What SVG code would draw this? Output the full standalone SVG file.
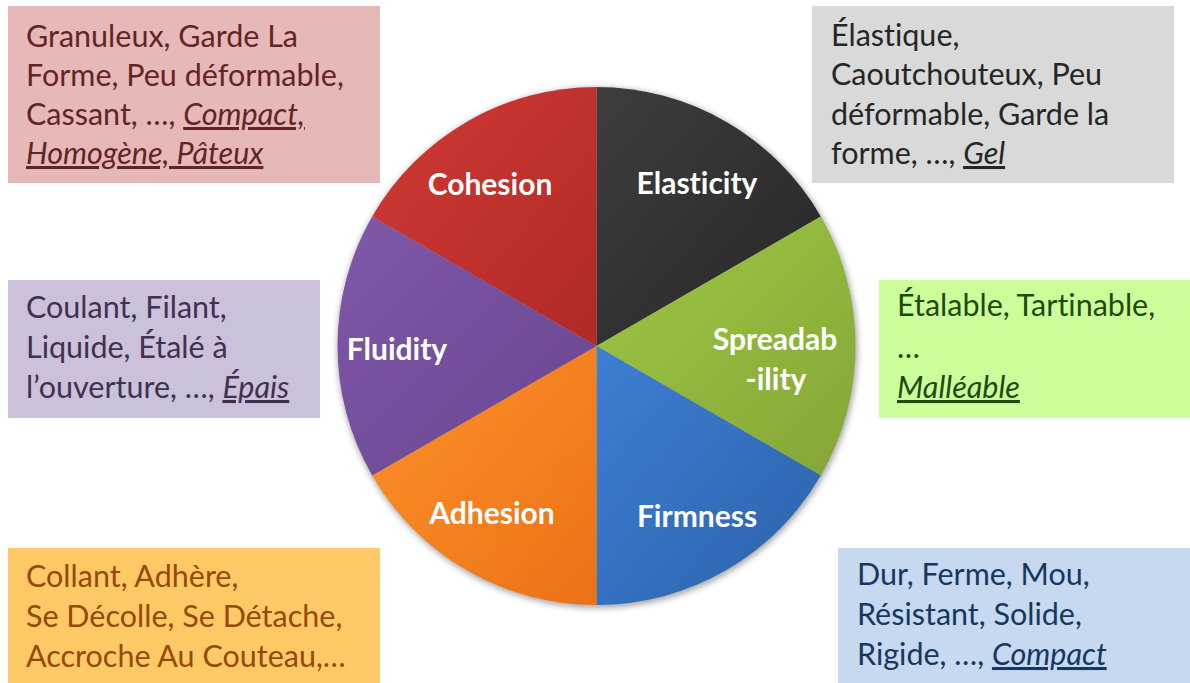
<svg xmlns="http://www.w3.org/2000/svg" width="1190" height="683" viewBox="0 0 1190 683">
<defs>
<style>
.t{font-family:Lato,"Noto Sans",sans-serif;font-size:30.5px;font-variant-ligatures:none}
.lbl{font-family:Lato,"Noto Sans",sans-serif;font-weight:bold;font-size:30px;fill:#ffffff;font-variant-ligatures:none}
.u{font-style:italic;text-decoration:underline}
</style>
<linearGradient id="gRed" x1="0" y1="0" x2="1" y2="1"><stop offset="0" stop-color="#CF3A35"/><stop offset="1" stop-color="#B12926"/></linearGradient>
<linearGradient id="gBlk" x1="0" y1="0" x2="1" y2="1"><stop offset="0" stop-color="#3E3E3E"/><stop offset="1" stop-color="#262626"/></linearGradient>
<linearGradient id="gGrn" x1="0" y1="0" x2="1" y2="1"><stop offset="0" stop-color="#9EC743"/><stop offset="1" stop-color="#84A636"/></linearGradient>
<linearGradient id="gBlu" x1="0" y1="0" x2="1" y2="1"><stop offset="0" stop-color="#3D7FD3"/><stop offset="1" stop-color="#2C62AA"/></linearGradient>
<linearGradient id="gOrg" x1="0" y1="0" x2="1" y2="1"><stop offset="0" stop-color="#FC9229"/><stop offset="1" stop-color="#EC7117"/></linearGradient>
<linearGradient id="gPur" x1="0" y1="0" x2="1" y2="1"><stop offset="0" stop-color="#8058A9"/><stop offset="1" stop-color="#684690"/></linearGradient>
<filter id="sh" x="-10%" y="-10%" width="120%" height="120%"><feGaussianBlur stdDeviation="3"/></filter>
</defs>
<rect width="1190" height="683" fill="#ffffff"/>

<g id="pie">
<circle cx="597.5" cy="348" r="260" fill="#000" opacity="0.35" filter="url(#sh)"/>
<g id="slice-elasticity"><path d="M596.5,346 L596.5,87 A259,259 0 0 1 820.8,216.5 Z" fill="url(#gBlk)"/><text class="lbl" x="697" y="194" text-anchor="middle">Elasticity</text></g>
<g id="slice-spreadability"><path d="M596.5,346 L820.8,216.5 A259,259 0 0 1 820.8,475.5 Z" fill="url(#gGrn)"/><text class="lbl" x="775" y="350" text-anchor="middle">Spreadab</text><text class="lbl" x="776" y="390" text-anchor="middle">-ility</text></g>
<g id="slice-firmness"><path d="M596.5,346 L820.8,475.5 A259,259 0 0 1 596.5,605 Z" fill="url(#gBlu)"/><text class="lbl" x="697" y="527" text-anchor="middle">Firmness</text></g>
<g id="slice-adhesion"><path d="M596.5,346 L596.5,605 A259,259 0 0 1 372.2,475.5 Z" fill="url(#gOrg)"/><text class="lbl" x="492" y="524" text-anchor="middle">Adhesion</text></g>
<g id="slice-fluidity"><path d="M596.5,346 L372.2,475.5 A259,259 0 0 1 372.2,216.5 Z" fill="url(#gPur)"/><text class="lbl" x="397" y="360" text-anchor="middle">Fluidity</text></g>
<g id="slice-cohesion"><path d="M596.5,346 L372.2,216.5 A259,259 0 0 1 596.5,87 Z" fill="url(#gRed)"/><text class="lbl" x="490" y="195" text-anchor="middle">Cohesion</text></g>
</g>

<g id="box-cohesion">
<rect x="8" y="6" width="372" height="177" fill="#E6B9B8"/>
<text class="t" fill="#632523"><tspan x="26" y="47">Granuleux, Garde La</tspan><tspan x="26" y="86">Forme, Peu déformable,</tspan><tspan x="26" y="125">Cassant, …, <tspan class="u">Compact,</tspan></tspan><tspan x="26" y="164" class="u">Homogène, Pâteux</tspan></text>
</g>
<g id="box-elasticity">
<rect x="812" y="6" width="362" height="177" fill="#D9D9D9"/>
<text class="t" fill="#262626"><tspan x="831" y="46">Élastique,</tspan><tspan x="831" y="85">Caoutchouteux, Peu</tspan><tspan x="831" y="125">déformable, Garde la</tspan><tspan x="831" y="164">forme, …, <tspan class="u">Gel</tspan></tspan></text>
</g>
<g id="box-fluidity">
<rect x="8" y="280" width="312" height="138" fill="#CCC1DA"/>
<text class="t" fill="#3F3151"><tspan x="26" y="318">Coulant, Filant,</tspan><tspan x="26" y="358">Liquide, Étalé à</tspan><tspan x="26" y="398">l’ouverture, …, <tspan class="u">Épais</tspan></tspan></text>
</g>
<g id="box-spreadability">
<rect x="879" y="280" width="311" height="138" fill="#CCFF99"/>
<text class="t" fill="#1D4A10"><tspan x="897" y="316">Étalable, Tartinable,</tspan><tspan x="897" y="358">…</tspan><tspan x="897" y="398" class="u">Malléable</tspan></text>
</g>
<g id="box-adhesion">
<rect x="8" y="548" width="372" height="135" fill="#FFCA66"/>
<text class="t" fill="#984807"><tspan x="26" y="587">Collant, Adhère,</tspan><tspan x="26" y="627">Se Décolle, Se Détache,</tspan><tspan x="26" y="667">Accroche Au Couteau,…</tspan></text>
</g>
<g id="box-firmness">
<rect x="838" y="548" width="352" height="135" fill="#C6D9F1"/>
<text class="t" fill="#17375E"><tspan x="857" y="585">Dur, Ferme, Mou,</tspan><tspan x="857" y="625">Résistant, Solide,</tspan><tspan x="857" y="665">Rigide, …, <tspan class="u">Compact</tspan></tspan></text>
</g>
<g id="connectors"/>
</svg>
